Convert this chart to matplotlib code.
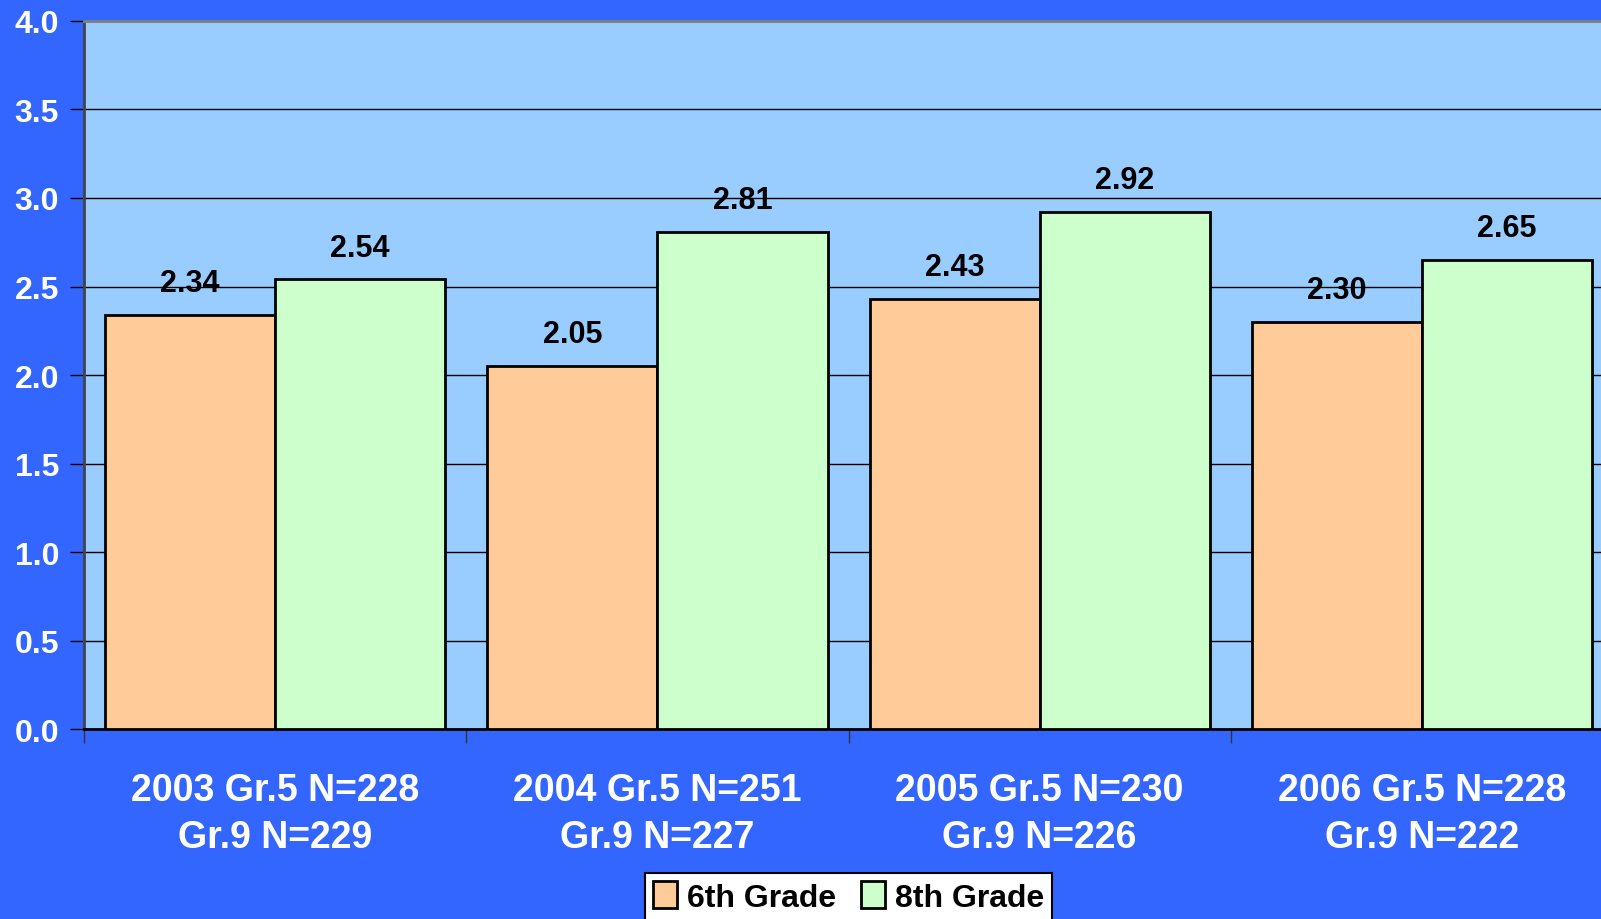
import matplotlib.pyplot as plt
import numpy as np

plt.rcParams['font.family'] = ['Liberation Sans', 'DejaVu Sans']
plt.rcParams['font.weight'] = 'bold'

groups = ['2003 Gr.5 N=228\nGr.9 N=229', '2004 Gr.5 N=251\nGr.9 N=227',
          '2005 Gr.5 N=230\nGr.9 N=226', '2006 Gr.5 N=228\nGr.9 N=222']
sixth = [2.34, 2.05, 2.43, 2.30]
eighth = [2.54, 2.81, 2.92, 2.65]

fig = plt.figure(figsize=(16.01, 9.2), dpi=100, facecolor='#3366FF')
ax = fig.add_axes([0.0525, 0.2065, 0.955, 0.7696], facecolor='#99CCFF')

x = np.arange(len(groups))
w = 0.445
b1 = ax.bar(x - w / 2, sixth, w, color='#FFCC99', edgecolor='black', linewidth=2, label='6th Grade', zorder=3)
b2 = ax.bar(x + w / 2, eighth, w, color='#CCFFCC', edgecolor='black', linewidth=2, label='8th Grade', zorder=3)

for bars, vals in ((b1, sixth), (b2, eighth)):
    for r, v in zip(bars, vals):
        ax.annotate(f'{v:.2f}', (r.get_x() + r.get_width() / 2, v), xytext=(0, 12),
                    textcoords='offset points', ha='center', va='bottom',
                    fontsize=22, fontweight='bold', color='black')

ax.set_xlim(-0.5, 3.5)
ax.set_ylim(0, 4.0)
ax.set_yticks(np.arange(0, 4.01, 0.5))
ax.set_yticklabels([f'{t:.1f}' for t in np.arange(0, 4.01, 0.5)])
ax.yaxis.grid(True, color='black', linewidth=1, zorder=0)
ax.set_axisbelow(True)

# group labels sit between the boundary tick marks
ax.set_xticks([-0.5, 0.5, 1.5, 2.5, 3.5])
ax.set_xticklabels([])
ax.set_xticks(x, minor=True)
ax.set_xticklabels(groups, minor=True, fontsize=27, fontweight='bold', color='white',
                   linespacing=1.4)
ax.tick_params(axis='x', which='minor', length=0, pad=31)
ax.tick_params(axis='x', which='major', length=10, width=1, color='#333333', direction='out')
ax.tick_params(axis='y', length=10, width=1, color='black', labelsize=23,
               labelcolor='white', pad=8)

ax.spines['right'].set_visible(False)
ax.spines['top'].set_color('#808080')
ax.spines['top'].set_linewidth(2)
ax.spines['left'].set_color('#444444')
ax.spines['left'].set_linewidth(2)
ax.spines['bottom'].set_color('black')
ax.spines['bottom'].set_linewidth(2)

leg = fig.legend(handles=[b1, b2], loc='upper center', bbox_to_anchor=(0.53, 0.067),
                 ncol=2, frameon=True, fancybox=False, edgecolor='black',
                 framealpha=1, handlelength=0.75, handleheight=0.9, handletextpad=0.3,
                 columnspacing=0.8, borderpad=0.25, prop={'weight': 'bold', 'size': 23})
leg.get_frame().set_linewidth(1.5)

plt.savefig('out.png', dpi=100, facecolor=fig.get_facecolor())
